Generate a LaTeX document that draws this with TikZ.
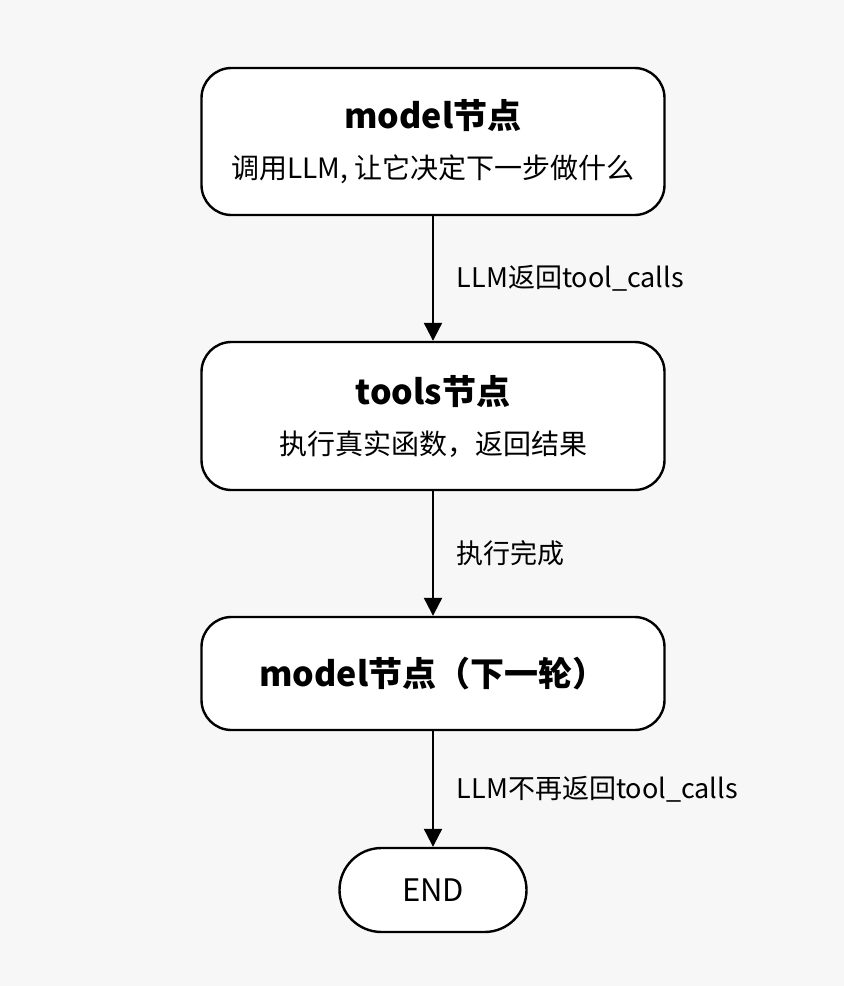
\documentclass[tikz,border=0pt]{standalone}
\usepackage{fontspec}
\setmainfont{Noto Sans CJK SC}
\usetikzlibrary{arrows.meta,positioning}

\begin{document}
\begin{tikzpicture}[
    x=0.5pt, y=-0.5pt,
    stepbox/.style={rectangle, draw, line width=1.2pt, fill=white, rounded corners=15pt, minimum width=231.5pt, align=center, font=\fontsize{14}{17}\selectfont},
    endbox/.style={rectangle, draw, line width=1.2pt, fill=white, rounded corners=21pt, minimum width=93.5pt, minimum height=42pt, font=\fontsize{15.5}{18}\selectfont},
    arrow/.style={-{Triangle[length=9pt,width=9pt]}, line width=1.1pt},
    lbl/.style={right, xshift=8pt, font=\fontsize{13.5}{16}\selectfont}
]
    % Background
    \fill[gray!6] (0,0) rectangle (844,986);

    % Steps
    \node[stepbox, minimum height=73.5pt] (model) at (433,141.5) {{\fontsize{17}{20}\selectfont\bfseries model节点}\\[8pt]调用LLM, 让它决定下一步做什么};
    \node[stepbox, minimum height=74pt, node distance=137.25pt, below of=model] (tools) {{\fontsize{17}{20}\selectfont\bfseries tools节点}\\[8pt]执行真实函数，返回结果};
    \node[stepbox, minimum height=56.5pt, node distance=128.75pt, below of=tools] (next) {\fontsize{17}{20}\selectfont\bfseries model节点（下一轮）};
    \node[endbox, node distance=108.25pt, below of=next] (end) {END};

    % Transitions
    \draw[arrow] (model) -- node[lbl] {LLM返回tool\_calls} (tools);
    \draw[arrow] (tools) -- node[lbl] {执行完成} (next);
    \draw[arrow] (next) -- node[lbl] {LLM不再返回tool\_calls} (end);
\end{tikzpicture}
\end{document}
